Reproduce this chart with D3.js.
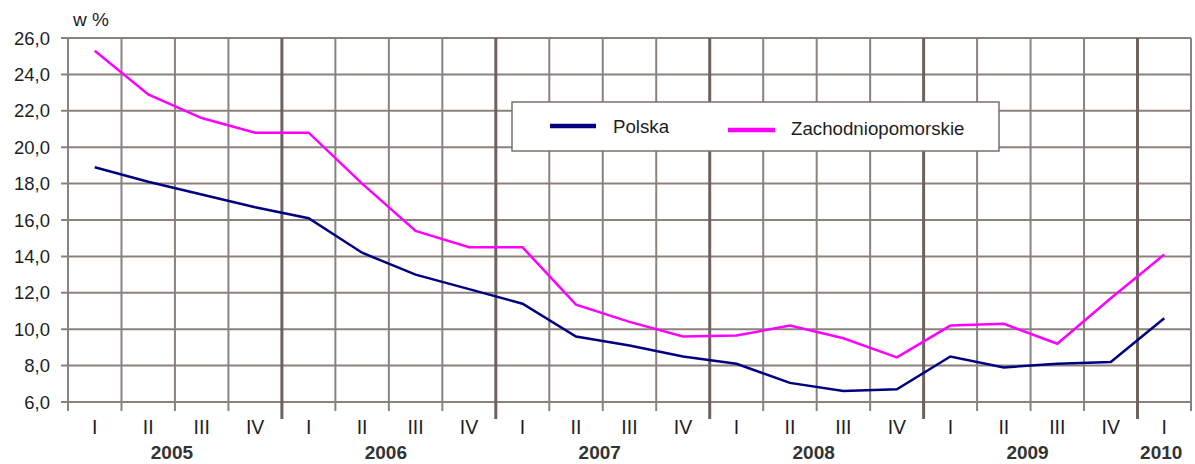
<!DOCTYPE html>
<html>
<head>
<meta charset="utf-8">
<script src="https://cdn.jsdelivr.net/npm/d3@7"></script>
<style>
  body { margin: 0; background: #fff; }
  svg { display: block; font-family: Arial, "Liberation Sans", sans-serif; }
</style>
</head>
<body>
<svg id="chart" width="1195" height="464"></svg>
<script>
// quarters 2005 I .. 2010 I
const quarters = ['I', 'II', 'III', 'IV', 'I', 'II', 'III', 'IV', 'I', 'II', 'III', 'IV',
  'I', 'II', 'III', 'IV', 'I', 'II', 'III', 'IV', 'I'];
const years = ['2005', '2006', '2007', '2008', '2009', '2010'];
const polska = [18.9, 18.1, 17.4, 16.7, 16.1, 14.2, 13.0, 12.2, 11.4, 9.6, 9.1, 8.5,
  8.1, 7.05, 6.6, 6.7, 8.5, 7.9, 8.1, 8.2, 10.6];
const zachodniopomorskie = [25.3, 22.9, 21.6, 20.8, 20.8, 18.0, 15.4, 14.5, 14.5, 11.35, 10.4, 9.6,
  9.65, 10.2, 9.5, 8.45, 10.2, 10.3, 9.2, 11.7, 14.1];
const yTicks = [6, 8, 10, 12, 14, 16, 18, 20, 22, 24, 26];

const svg = d3.select('#chart');
const plotLeft = 68, plotRight = 1191, plotTop = 38, plotBottom = 402;
const gridColor = '#8c827c';
const sepColor = '#6f625c';
const textColor = '#1e1e1e';

const x = d3.scaleBand().domain(d3.range(quarters.length)).range([plotLeft, plotRight]).padding(0);
const y = d3.scaleLinear().domain([6, 26]).range([plotBottom, plotTop]);
const fmt = v => d3.format('.1f')(v).replace('.', ',');
const isSep = i => i % 4 === 0 && i > 0 && i < quarters.length;

// horizontal grid + y axis ticks
svg.append('g').selectAll('line').data(yTicks).join('line')
  .attr('x1', plotLeft - 7).attr('x2', plotRight)
  .attr('y1', d => y(d)).attr('y2', d => y(d))
  .attr('stroke', gridColor).attr('stroke-width', 2);

svg.append('g').selectAll('text').data(yTicks).join('text')
  .attr('x', 50).attr('y', d => y(d) + 6.5)
  .attr('text-anchor', 'end').attr('font-size', 18.5).attr('fill', textColor)
  .text(fmt);

// vertical grid (quarter boundaries)
const bounds = d3.range(quarters.length + 1);
svg.append('g').selectAll('line').data(bounds).join('line')
  .attr('x1', i => plotLeft + i * x.bandwidth()).attr('x2', i => plotLeft + i * x.bandwidth())
  .attr('y1', plotTop).attr('y2', i => isSep(i) ? 419 : 411)
  .attr('stroke', i => isSep(i) ? sepColor : gridColor)
  .attr('stroke-width', i => isSep(i) ? 3 : 2);

// legend
const lg = svg.append('g');
lg.append('rect').attr('x', 512).attr('y', 102).attr('width', 487).attr('height', 49)
  .attr('fill', '#fff').attr('stroke', '#7a716c').attr('stroke-width', 1.5);
lg.append('line').attr('x1', 550).attr('x2', 596).attr('y1', 126).attr('y2', 126)
  .attr('stroke', '#000080').attr('stroke-width', 4.5);
lg.append('text').attr('x', 613).attr('y', 133).attr('font-size', 18.7).attr('fill', textColor).text('Polska');
lg.append('line').attr('x1', 728).attr('x2', 775).attr('y1', 130).attr('y2', 130)
  .attr('stroke', '#ff00ff').attr('stroke-width', 4.5);
lg.append('text').attr('x', 791).attr('y', 135).attr('font-size', 18.7).attr('fill', textColor).text('Zachodniopomorskie');

// series
const line = d3.line().x((d, i) => x(i) + x.bandwidth() / 2).y(d => y(d));
svg.append('path').datum(zachodniopomorskie).attr('d', line)
  .attr('fill', 'none').attr('stroke', '#ff00ff').attr('stroke-width', 2.5);
svg.append('path').datum(polska).attr('d', line)
  .attr('fill', 'none').attr('stroke', '#000080').attr('stroke-width', 2.5);

// x labels
svg.append('g').selectAll('text').data(quarters).join('text')
  .attr('x', (d, i) => x(i) + x.bandwidth() / 2).attr('y', 434)
  .attr('text-anchor', 'middle').attr('font-size', 19.5).attr('fill', textColor)
  .text(d => d);

svg.append('g').selectAll('text').data(years).join('text')
  .attr('x', (d, i) => {
    const first = i * 4;
    const last = Math.min(first + 3, quarters.length - 1);
    return (x(first) + x(last) + x.bandwidth()) / 2 - 3;
  })
  .attr('y', 459).attr('text-anchor', 'middle')
  .attr('font-size', 19).attr('font-weight', 'bold').attr('fill', '#333')
  .text(d => d);

svg.append('text').attr('x', 73).attr('y', 26).attr('font-size', 19).attr('fill', textColor).text('w %');
</script>
</body>
</html>
